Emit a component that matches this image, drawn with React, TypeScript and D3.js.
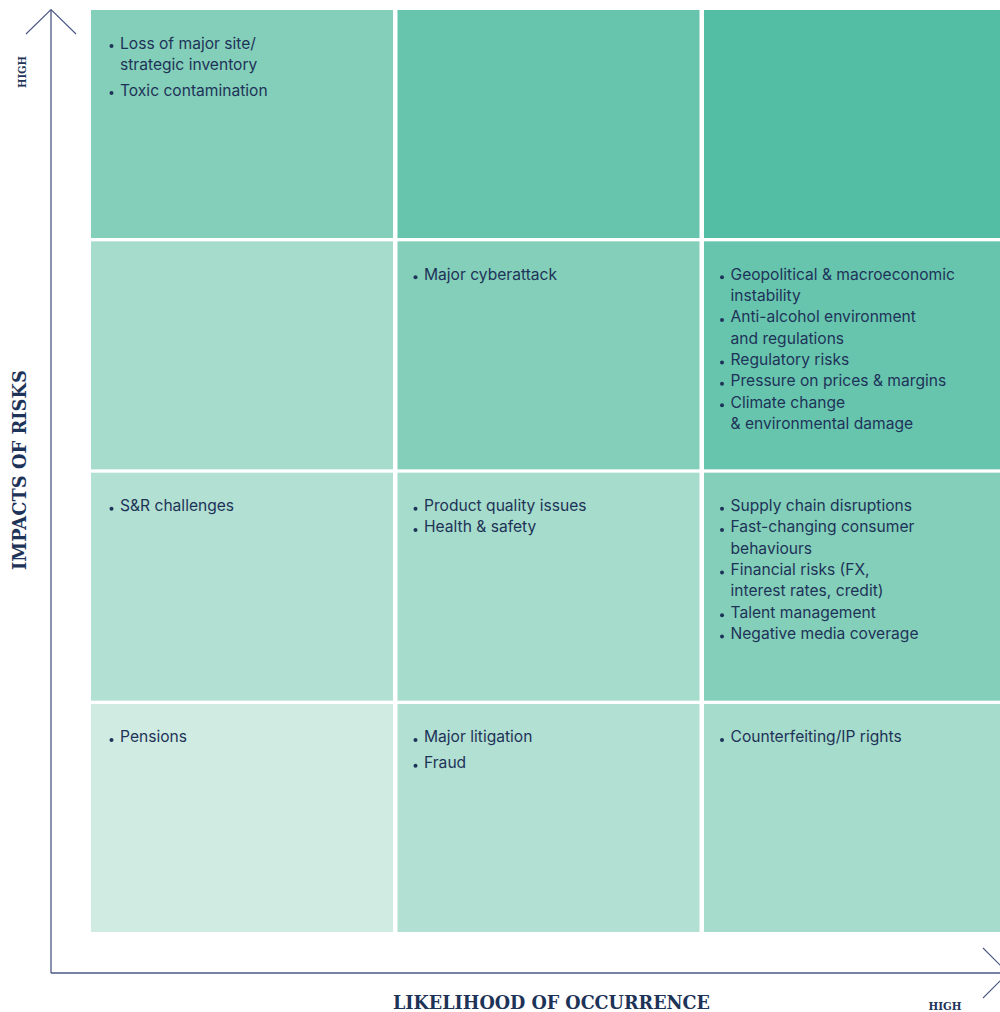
import React from "react";
import * as d3 from "d3";

// columns = likelihood (low -> high), rows = impact (high -> low)
const likelihoodLevels = ["low", "medium", "high"];
const impactLevels = ["high", "upper", "lower", "low"];

// risks in each cell, row by row from the top; "\n" breaks a line
const risksRow1 = [
  ["Loss of major site/\nstrategic inventory", "Toxic contamination"],
  [],
  [],
];
const risksRow2 = [
  [],
  ["Major cyberattack"],
  [
    "Geopolitical & macroeconomic\ninstability",
    "Anti-alcohol environment\nand regulations",
    "Regulatory risks",
    "Pressure on prices & margins",
    "Climate change\n& environmental damage",
  ],
];
const risksRow3 = [
  ["S&R challenges"],
  ["Product quality issues", "Health & safety"],
  [
    "Supply chain disruptions",
    "Fast-changing consumer\nbehaviours",
    "Financial risks (FX,\ninterest rates, credit)",
    "Talent management",
    "Negative media coverage",
  ],
];
const risksRow4 = [["Pensions"], ["Major litigation", "Fraud"], ["Counterfeiting/IP rights"]];
const risks = [risksRow1, risksRow2, risksRow3, risksRow4];

const levelColors = ["#d0ebe2", "#b2e0d2", "#a6dccb", "#83cfb9", "#67c5ae", "#53bea3"];

export default function App() {
  const width = 1000,
    height = 1012;
  const navy = "#1e3358";
  const axisColor = "#4a5784";

  const xScale = d3.scaleBand().domain(likelihoodLevels).range([91, 1006]).paddingInner(0.0147);
  const yScale = d3.scaleBand().domain(impactLevels).range([10, 932]).paddingInner(0.0144);
  const color = d3.scaleOrdinal<number, string>().domain(d3.range(6)).range(levelColors);

  const lineH = 21.3;
  const axisX = 51,
    axisY = 973;
  const titleFont = "'DejaVu Serif', serif";

  return (
    <div style={{ position: "absolute", left: 0, top: 0 }}>
      <svg width={width} height={height} style={{ display: "block" }}>
        {/* cells */}
        {impactLevels.map((imp, r) =>
          likelihoodLevels.map((lik, c) => {
            const x = xScale(lik)!;
            const y = yScale(imp)!;
            const level = impactLevels.length - 1 - r + c;
            // single-line lists in sparse cells are spaced a bit more
            const items = risks[r][c];
            const loose = (r === 0 && c === 0) || (r === 3 && c === 1);
            const padL = c === 0 ? 29 : 26.5;
            let line = 0;
            let extra = 0;
            return (
              <g key={imp + lik}>
                <rect x={x} y={y} width={xScale.bandwidth()} height={yScale.bandwidth()} fill={color(level)} />
                {items.map((item, i) => {
                  const parts = item.split("\n");
                  if (i > 0 && loose) extra += 4.5;
                  const y0 = y + 33 + line * lineH + extra;
                  line += parts.length;
                  return (
                    <g key={i}>
                      <circle cx={x + padL - 8.5} cy={y0 + 3} r={2} fill={navy} />
                      {parts.map((p, j) => (
                        <text
                          key={j}
                          x={x + padL}
                          y={y0 + j * lineH}
                          dominantBaseline="central"
                          fontFamily="Inter, 'Noto Sans', sans-serif"
                          fontSize={15.6}
                          fill={navy}
                        >
                          {p}
                        </text>
                      ))}
                    </g>
                  );
                })}
              </g>
            );
          })
        )}

        {/* y axis */}
        <line x1={axisX} x2={axisX} y1={10} y2={axisY} stroke={axisColor} strokeWidth={1.3} />
        <path d={`M${axisX - 25},34 L${axisX},9.5 L${axisX + 25},34`} fill="none" stroke={axisColor} strokeWidth={1.1} />
        {/* x axis */}
        <line x1={axisX} x2={1008} y1={axisY} y2={axisY} stroke={axisColor} strokeWidth={1.3} />
        <path d={`M983,948 L1008,${axisY} L983,998`} fill="none" stroke={axisColor} strokeWidth={1.1} />

        {/* axis titles */}
        <text
          transform="translate(26,470) rotate(-90)"
          textAnchor="middle"
          fontFamily={titleFont}
          fontWeight="bold"
          fontSize={18}
          textLength={200}
          lengthAdjust="spacingAndGlyphs"
          fill={navy}
        >
          IMPACTS OF RISKS
        </text>
        <text
          x={551.5}
          y={1009}
          textAnchor="middle"
          fontFamily={titleFont}
          fontWeight="bold"
          fontSize={18}
          textLength={317}
          lengthAdjust="spacingAndGlyphs"
          fill={navy}
        >
          LIKELIHOOD OF OCCURRENCE
        </text>
        <text
          transform="translate(26,72) rotate(-90)"
          textAnchor="middle"
          fontFamily={titleFont}
          fontWeight="bold"
          fontSize={11.5}
          textLength={32}
          lengthAdjust="spacingAndGlyphs"
          fill={navy}
        >
          HIGH
        </text>
        <text
          x={945}
          y={1010}
          textAnchor="middle"
          fontFamily={titleFont}
          fontWeight="bold"
          fontSize={11.5}
          textLength={33}
          lengthAdjust="spacingAndGlyphs"
          fill={navy}
        >
          HIGH
        </text>
      </svg>
    </div>
  );
}
